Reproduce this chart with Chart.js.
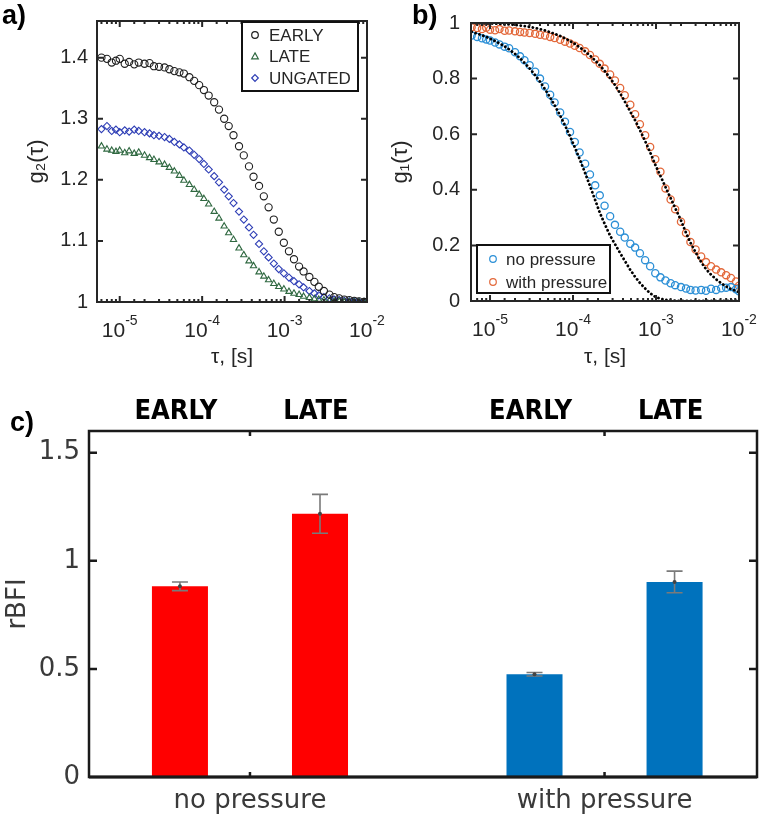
<!DOCTYPE html>
<html>
<head>
<meta charset="utf-8">
<script src="https://cdn.jsdelivr.net/npm/chart.js@4.4.1/dist/chart.umd.min.js"></script>
<style>
  body { margin: 0; background: #fff; width: 761px; height: 820px; position: relative; overflow: hidden; }
  canvas { position: absolute; }
  .tag { position: absolute; font: bold 27px "Liberation Sans", Arial, sans-serif; color: #000; line-height: 1; }
</style>
</head>
<body>
<canvas id="chartA" width="395" height="375" style="left:0;top:0"></canvas>
<canvas id="chartB" width="381" height="375" style="left:380px;top:0"></canvas>
<canvas id="chartC" width="761" height="440" style="left:0;top:380px"></canvas>
<div class="tag" style="left:2px;top:2px">a)</div>
<div class="tag" style="left:412px;top:2px">b)</div>
<div class="tag" style="left:10px;top:409px">c)</div>
<script>
// ---- data ----
const tau = [6.0e-6, 7.0e-6, 8.0e-6, 9.0e-6, 1.0e-5, 1.15e-5, 1.3e-5, 1.5e-5, 1.7e-5, 2.0e-5,
  2.3e-5, 2.6e-5, 3.0e-5, 3.5e-5, 4.0e-5, 4.6e-5, 5.3e-5, 6.0e-5, 7.0e-5, 8.0e-5,
  9.2e-5, 1.05e-4, 1.2e-4, 1.4e-4, 1.6e-4, 1.85e-4, 2.1e-4, 2.4e-4, 2.8e-4, 3.2e-4,
  3.7e-4, 4.2e-4, 4.9e-4, 5.6e-4, 6.4e-4, 7.4e-4, 8.5e-4, 9.8e-4, 1.13e-3, 1.3e-3,
  1.5e-3, 1.7e-3, 2.0e-3, 2.3e-3, 2.6e-3, 3.0e-3, 3.5e-3, 4.0e-3, 4.6e-3, 5.3e-3,
  6.1e-3, 7.0e-3, 8.0e-3, 9.2e-3, 1.0e-2];

const g2Early = [1.400, 1.398, 1.392, 1.395, 1.398, 1.390, 1.393, 1.389, 1.392, 1.390,
  1.391, 1.386, 1.385, 1.384, 1.381, 1.378, 1.376, 1.374, 1.368, 1.362,
  1.355, 1.347, 1.338, 1.327, 1.315, 1.300, 1.288, 1.273, 1.255, 1.240,
  1.222, 1.205, 1.190, 1.173, 1.155, 1.135, 1.115, 1.097, 1.083, 1.070,
  1.058, 1.050, 1.041, 1.033, 1.025, 1.018, 1.012, 1.008, 1.006, 1.004,
  1.003, 1.002, 1.001, 1.000, 1.000];
const g2Late = [1.255, 1.250, 1.248, 1.246, 1.248, 1.244, 1.247, 1.243, 1.245, 1.240,
  1.236, 1.233, 1.229, 1.225, 1.220, 1.214, 1.207, 1.199, 1.192, 1.184,
  1.176, 1.169, 1.160, 1.148, 1.137, 1.124, 1.113, 1.102, 1.088, 1.077,
  1.067, 1.059, 1.049, 1.042, 1.036, 1.030, 1.025, 1.021, 1.017, 1.014,
  1.012, 1.009, 1.007, 1.005, 1.004, 1.003, 1.002, 1.001, 1.001, 1.000,
  1.000, 1.000, 1.000, 1.000, 1.000];
const g2Ungated = [1.283, 1.288, 1.280, 1.282, 1.278, 1.281, 1.279, 1.282, 1.280, 1.278,
  1.276, 1.273, 1.272, 1.270, 1.267, 1.262, 1.258, 1.253, 1.248, 1.241,
  1.234, 1.226, 1.217, 1.206, 1.196, 1.184, 1.173, 1.162, 1.148, 1.135,
  1.122, 1.110, 1.095, 1.083, 1.073, 1.063, 1.054, 1.047, 1.040, 1.034,
  1.029, 1.024, 1.018, 1.014, 1.011, 1.008, 1.006, 1.004, 1.003, 1.002,
  1.001, 1.001, 1.000, 1.000, 1.000];

const g1NoPressure = [0.955, 0.950, 0.945, 0.941, 0.937, 0.930, 0.923, 0.915, 0.909, 0.895,
  0.880, 0.866, 0.848, 0.825, 0.800, 0.772, 0.742, 0.714, 0.678, 0.645,
  0.608, 0.572, 0.534, 0.494, 0.455, 0.416, 0.380, 0.343, 0.305, 0.274,
  0.249, 0.228, 0.206, 0.192, 0.172, 0.147, 0.125, 0.100, 0.085, 0.074,
  0.064, 0.057, 0.050, 0.045, 0.040, 0.038, 0.040, 0.037, 0.044, 0.040,
  0.046, 0.048, 0.050, 0.042, 0.035];
const g1WithPressure = [0.985, 0.982, 0.978, 0.983, 0.976, 0.974, 0.978, 0.972, 0.973, 0.970,
  0.968, 0.966, 0.964, 0.961, 0.958, 0.955, 0.950, 0.946, 0.940, 0.933,
  0.926, 0.918, 0.910, 0.898, 0.885, 0.869, 0.853, 0.836, 0.815, 0.793,
  0.766, 0.740, 0.706, 0.672, 0.636, 0.596, 0.554, 0.510, 0.465, 0.405,
  0.365, 0.330, 0.285, 0.245, 0.212, 0.185, 0.160, 0.140, 0.125, 0.113,
  0.103, 0.093, 0.083, 0.070, 0.055];
const fitNoPressure = [0.968, 0.962, 0.956, 0.950, 0.944, 0.935, 0.927, 0.916, 0.905, 0.889,
  0.873, 0.857, 0.837, 0.812, 0.789, 0.762, 0.732, 0.704, 0.667, 0.632,
  0.593, 0.553, 0.511, 0.460, 0.414, 0.363, 0.318, 0.278, 0.235, 0.205,
  0.172, 0.145, 0.112, 0.087, 0.065, 0.045, 0.028, 0.015, 0.008, 0.004,
  0.002, 0.001, 0.000, 0.000, 0.000, 0.000, 0.000, 0.000, 0.000, 0.000,
  0.000, 0.000, 0.000, 0.000, 0.000];
const fitWithPressure = [1.000, 0.999, 0.999, 0.999, 0.998, 0.998, 0.997, 0.996, 0.995, 0.993,
  0.991, 0.989, 0.986, 0.982, 0.978, 0.973, 0.967, 0.961, 0.953, 0.945,
  0.935, 0.925, 0.913, 0.898, 0.883, 0.865, 0.848, 0.828, 0.802, 0.777,
  0.747, 0.718, 0.681, 0.650, 0.615, 0.575, 0.535, 0.490, 0.450, 0.410,
  0.370, 0.335, 0.290, 0.245, 0.210, 0.175, 0.140, 0.115, 0.095, 0.078,
  0.064, 0.052, 0.043, 0.036, 0.032];

const groups = ['no pressure', 'with pressure'];
const groupPos = [1, 2];
const phases = ['EARLY', 'LATE'];
const rbfiEarly = [0.882, 0.475];
const rbfiLate = [1.217, 0.902];
const errEarly = [0.020, 0.008];
const errLate = [0.090, 0.050];
const barColors = ['#ff0000', '#0072bd'];

const decades = [1e-5, 1e-4, 1e-3, 1e-2];
const yTicksA = [1, 1.1, 1.2, 1.3, 1.4];
const yTicksB = [0, 0.2, 0.4, 0.6, 0.8, 1];
const yTicksC = [0, 0.5, 1, 1.5];

// ---- styling helpers ----
const SANS = '"Liberation Sans", Arial, sans-serif';
const DEJAVU = '"DejaVu Sans", sans-serif';
const INK = '#262626';

const pts = ys => tau.map((t, i) => ({ x: t, y: ys[i] }));
const fixTicks = list => scale => { scale.ticks = list.map(v => ({ value: v })); };
const fmt = v => String(+Number(v).toFixed(2));

function marker(ctx, style, x, y, r, color, lw) {
  ctx.beginPath();
  if (style === 'triangle') {
    ctx.moveTo(x, y - r * 1.1);
    ctx.lineTo(x + r, y + r * 0.7);
    ctx.lineTo(x - r, y + r * 0.7);
    ctx.closePath();
  } else if (style === 'rectRot') {
    ctx.moveTo(x, y - r);
    ctx.lineTo(x + r, y);
    ctx.lineTo(x, y + r);
    ctx.lineTo(x - r, y);
    ctx.closePath();
  } else {
    ctx.arc(x, y, r, 0, Math.PI * 2);
  }
  ctx.strokeStyle = color;
  ctx.lineWidth = lw;
  ctx.stroke();
}

// frame with inward MATLAB-style ticks
const boxFrame = {
  id: 'boxFrame',
  afterDatasetsDraw(chart, args, o) {
    const { ctx, chartArea: a } = chart;
    const sx = chart.scales.x, sy = chart.scales.y;
    ctx.save();
    ctx.strokeStyle = o.color || INK;
    ctx.lineWidth = o.width || 2;
    ctx.strokeRect(a.left, a.top, a.right - a.left, a.bottom - a.top);
    ctx.beginPath();
    sx.ticks.forEach(t => {
      const x = sx.getPixelForValue(t.value);
      if (x < a.left + 1 || x > a.right - 1) return;
      let len = o.xTick || 6;
      if (sx.type === 'logarithmic') {
        const e = Math.log10(t.value);
        len = Math.abs(e - Math.round(e)) < 1e-6 ? 6 : 3;
      }
      ctx.moveTo(x, a.bottom); ctx.lineTo(x, a.bottom - len);
      ctx.moveTo(x, a.top); ctx.lineTo(x, a.top + len);
    });
    sy.ticks.forEach(t => {
      const y = sy.getPixelForValue(t.value);
      if (y < a.top + 1 || y > a.bottom - 1) return;
      const len = o.yTick || 6;
      ctx.moveTo(a.left, y); ctx.lineTo(a.left + len, y);
      ctx.moveTo(a.right, y); ctx.lineTo(a.right - len, y);
    });
    ctx.stroke();
    if (o.baseWidth) {
      ctx.lineWidth = o.baseWidth;
      ctx.beginPath();
      ctx.moveTo(a.left, a.bottom); ctx.lineTo(a.right, a.bottom);
      ctx.stroke();
    }
    ctx.restore();
  }
};

// 10^n labels under a log axis
const decadeLabels = {
  id: 'decadeLabels',
  afterDraw(chart) {
    const { ctx, chartArea: a } = chart;
    const sx = chart.scales.x;
    ctx.save();
    ctx.fillStyle = INK;
    ctx.textBaseline = 'alphabetic';
    decades.forEach(d => {
      const x = sx.getPixelForValue(d);
      const exp = String(Math.round(Math.log10(d)));
      ctx.font = '21px ' + SANS;
      const w1 = ctx.measureText('10').width;
      ctx.font = '14px ' + SANS;
      const w2 = ctx.measureText(exp).width;
      const x0 = x - (w1 + w2) / 2;
      const base = a.bottom + 35;
      ctx.font = '21px ' + SANS;
      ctx.fillText('10', x0, base);
      ctx.font = '14px ' + SANS;
      ctx.fillText(exp, x0 + w1, base - 12);
    });
    ctx.restore();
  }
};

// boxed legend inside the axes
const boxLegend = {
  id: 'boxLegend',
  afterDraw(chart, args, o) {
    if (!o.box) return;
    const { ctx } = chart;
    const [x, y, w, h] = o.box;
    ctx.save();
    ctx.fillStyle = '#fff';
    ctx.fillRect(x, y, w, h);
    ctx.strokeStyle = '#111';
    ctx.lineWidth = 2;
    ctx.strokeRect(x, y, w, h);
    ctx.font = '17px ' + SANS;
    ctx.textBaseline = 'middle';
    ctx.fillStyle = INK;
    chart.data.datasets.filter(d => d.inLegend).forEach((d, i) => {
      const cy = y + o.first + i * o.step;
      marker(ctx, d.pointStyle, x + o.markerX, cy, 3.3, d.borderColor, 1.2);
      ctx.fillText(d.label, x + o.textX, cy + 1);
    });
    ctx.restore();
  }
};

// error bars and group headers on the bar chart
const barExtras = {
  id: 'barExtras',
  afterDatasetsDraw(chart) {
    const { ctx, chartArea: a } = chart;
    const sy = chart.scales.y;
    ctx.save();
    chart.data.datasets.forEach((ds, k) => {
      const meta = chart.getDatasetMeta(k);
      meta.data.forEach((bar, i) => {
        const v = ds.data[i].y, e = ds.errors[i];
        const yt = sy.getPixelForValue(v + e), yb = sy.getPixelForValue(v - e);
        ctx.strokeStyle = '#7a7a7a';
        ctx.lineWidth = 1.6;
        ctx.beginPath();
        ctx.moveTo(bar.x, yt); ctx.lineTo(bar.x, yb);
        ctx.moveTo(bar.x - 8, yt); ctx.lineTo(bar.x + 8, yt);
        ctx.moveTo(bar.x - 8, yb); ctx.lineTo(bar.x + 8, yb);
        ctx.stroke();
        ctx.fillStyle = '#444';
        ctx.beginPath();
        ctx.arc(bar.x, sy.getPixelForValue(v), 2, 0, Math.PI * 2);
        ctx.fill();
        ctx.fillStyle = '#000';
        ctx.font = 'bold 27px "Liberation Sans Narrow", "DejaVu Sans Condensed", "Liberation Sans", sans-serif';
        ctx.textAlign = 'center';
        ctx.textBaseline = 'middle';
        ctx.fillText(ds.label, bar.x - 4, a.top - 19);
      });
    });
    ctx.restore();
  }
};

Chart.defaults.animation = false;
Chart.defaults.color = INK;

// ---- panel a ----
new Chart(document.getElementById('chartA'), {
  type: 'scatter',
  data: {
    datasets: [
      { label: 'EARLY', data: pts(g2Early), pointStyle: 'circle', borderColor: '#1e1e1e', inLegend: true },
      { label: 'LATE', data: pts(g2Late), pointStyle: 'triangle', borderColor: '#2f6840', inLegend: true },
      { label: 'UNGATED', data: pts(g2Ungated), pointStyle: 'rectRot', borderColor: '#2d3db5', inLegend: true }
    ].map(d => Object.assign(d, { backgroundColor: 'rgba(0,0,0,0)', pointRadius: 3.6, pointBorderWidth: 1.1, showLine: false }))
  },
  options: {
    responsive: false,
    layout: { padding: { top: 14, right: 28, left: 0, bottom: 0 } },
    plugins: {
      legend: { display: false }, tooltip: { enabled: false },
      boxFrame: {},
      boxLegend: { box: [242, 22, 116, 69], first: 13, step: 21.5, markerX: 13, textX: 27 }
    },
    scales: {
      x: {
        type: 'logarithmic', min: 5.3e-6, max: 1e-2,
        grid: { display: false }, border: { display: false },
        ticks: { display: false },
        title: { display: true, text: 'τ, [s]', font: { family: SANS, size: 21 }, color: INK, padding: { top: 0, bottom: 5 } },
        afterFit: s => { s.height = 73; }
      },
      y: {
        min: 1, max: 1.46,
        afterBuildTicks: fixTicks(yTicksA),
        grid: { display: false, drawTicks: false }, border: { display: false },
        ticks: { callback: fmt, padding: 9, font: { family: SANS, size: 20 }, color: INK },
        title: { display: true, text: 'g₂(τ)', font: { family: SANS, size: 22 }, color: INK, padding: { top: 24 } },
        afterFit: s => { s.width = 97; }
      }
    }
  },
  plugins: [boxFrame, decadeLabels, boxLegend]
});

// ---- panel b ----
new Chart(document.getElementById('chartB'), {
  type: 'scatter',
  data: {
    datasets: [
      { label: 'fit no pressure', data: pts(fitNoPressure), order: 0 },
      { label: 'fit with pressure', data: pts(fitWithPressure), order: 0 }
    ].map(d => Object.assign(d, {
      showLine: true, pointRadius: 0, borderColor: '#000', borderWidth: 2.8,
      borderDash: [0.1, 4], borderCapStyle: 'round'
    })).concat([
      { label: 'no pressure', data: pts(g1NoPressure), borderColor: '#2b8fd6' },
      { label: 'with pressure', data: pts(g1WithPressure), borderColor: '#e3683a' }
    ].map(d => Object.assign(d, {
      inLegend: true, order: 1, pointStyle: 'circle', backgroundColor: 'rgba(0,0,0,0)',
      pointRadius: 3.6, pointBorderWidth: 1.3, showLine: false
    })))
  },
  options: {
    responsive: false,
    layout: { padding: { top: 15, right: 22, left: 0, bottom: 0 } },
    plugins: {
      legend: { display: false }, tooltip: { enabled: false },
      boxFrame: {},
      boxLegend: { box: [97, 245, 133, 48], first: 14, step: 23, markerX: 16, textX: 29 }
    },
    scales: {
      x: {
        type: 'logarithmic', min: 5.9e-6, max: 1e-2,
        grid: { display: false }, border: { display: false },
        ticks: { display: false },
        title: { display: true, text: 'τ, [s]', font: { family: SANS, size: 21 }, color: INK, padding: { top: 0, bottom: 5 } },
        afterFit: s => { s.height = 74; }
      },
      y: {
        min: 0, max: 1,
        afterBuildTicks: fixTicks(yTicksB),
        grid: { display: false, drawTicks: false }, border: { display: false },
        ticks: { callback: fmt, padding: 11, font: { family: SANS, size: 20 }, color: INK },
        title: { display: true, text: 'g₁(τ)', font: { family: SANS, size: 22 }, color: INK, padding: { top: 8 } },
        afterFit: s => { s.width = 91; }
      }
    }
  },
  plugins: [boxFrame, decadeLabels, boxLegend]
});

// ---- panel c ----
const rbfi = [rbfiEarly, rbfiLate];
const errs = [errEarly, errLate];
new Chart(document.getElementById('chartC'), {
  type: 'bar',
  data: {
    datasets: phases.map((p, k) => ({
      label: p,
      data: groupPos.map((x, i) => ({ x, y: rbfi[k][i] })),
      errors: errs[k],
      backgroundColor: barColors,
      borderWidth: 0,
      categoryPercentage: 0.79,
      barPercentage: 0.4
    }))
  },
  options: {
    responsive: false,
    layout: { padding: { top: 51, right: 4, left: 0, bottom: 0 } },
    plugins: {
      legend: { display: false }, tooltip: { enabled: false },
      boxFrame: { color: '#1a1a1a', width: 2.5, yTick: 8, xTick: 5, baseWidth: 3 }
    },
    scales: {
      x: {
        type: 'linear', offset: false, min: 0.546, max: 2.43,
        afterBuildTicks: fixTicks(groupPos),
        grid: { display: false, drawTicks: false }, border: { display: false },
        ticks: { callback: v => groups[groupPos.indexOf(v)], padding: 9, font: { family: DEJAVU, size: 26 }, color: '#3a3a3a', maxRotation: 0 },
        afterFit: s => { s.height = 43; }
      },
      y: {
        min: 0, max: 1.6,
        afterBuildTicks: fixTicks(yTicksC),
        grid: { display: false, drawTicks: false }, border: { display: false },
        ticks: { callback: fmt, padding: 9, font: { family: DEJAVU, size: 26 }, color: '#3a3a3a' },
        title: { display: true, text: 'rBFI', font: { family: DEJAVU, size: 26 }, color: '#3a3a3a', padding: { top: 3 } },
        afterFit: s => { s.width = 89; }
      }
    }
  },
  plugins: [boxFrame, barExtras]
});
</script>
</body>
</html>
